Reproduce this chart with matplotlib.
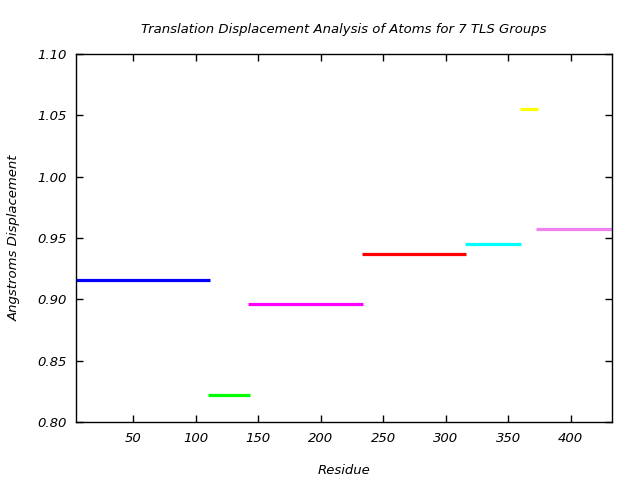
import matplotlib
matplotlib.use("Agg")
import matplotlib.pyplot as plt

starts = [4, 110, 142, 233, 315, 359, 372]
ends = [111, 143, 234, 316, 360, 374, 433]
values = [0.916, 0.822, 0.896, 0.937, 0.945, 1.055, 0.957]
colors = ["#0000ff", "#00ff00", "#ff00ff", "#ff0000", "#00ffff", "#ffff00", "#ee82ee"]
xticks = [50, 100, 150, 200, 250, 300, 350, 400]
yticks = [0.80, 0.85, 0.90, 0.95, 1.00, 1.05, 1.10]

fig = plt.figure(figsize=(6.4, 4.8), dpi=100)
ax = fig.add_axes([76/640, 1-422/480, (612-76)/640, (422-54)/480])
for s, e, v, c in zip(starts, ends, values, colors):
    ax.plot([s, e], [v, v], color=c, linewidth=2.3, solid_capstyle="butt")

ax.set_xlim(4, 433)
ax.set_ylim(0.80, 1.10)
ax.set_xticks(xticks)
ax.set_yticks(yticks)
ax.set_yticklabels([f"{t:.2f}" for t in yticks])
ax.tick_params(direction="in", top=True, right=True, length=5, width=1, labelsize=9.5, pad=7)
for lab in ax.get_xticklabels() + ax.get_yticklabels():
    lab.set_fontstyle("italic")
for sp in ax.spines.values():
    sp.set_linewidth(1)
ax.set_title("Translation Displacement Analysis of Atoms for 7 TLS Groups", fontsize=9.5, style="italic", pad=15)
ax.set_xlabel("Residue", fontsize=9.5, style="italic", labelpad=14)
ax.set_ylabel("Angstroms Displacement", fontsize=9.5, style="italic", labelpad=12)
fig.savefig("out.png", dpi=100)
